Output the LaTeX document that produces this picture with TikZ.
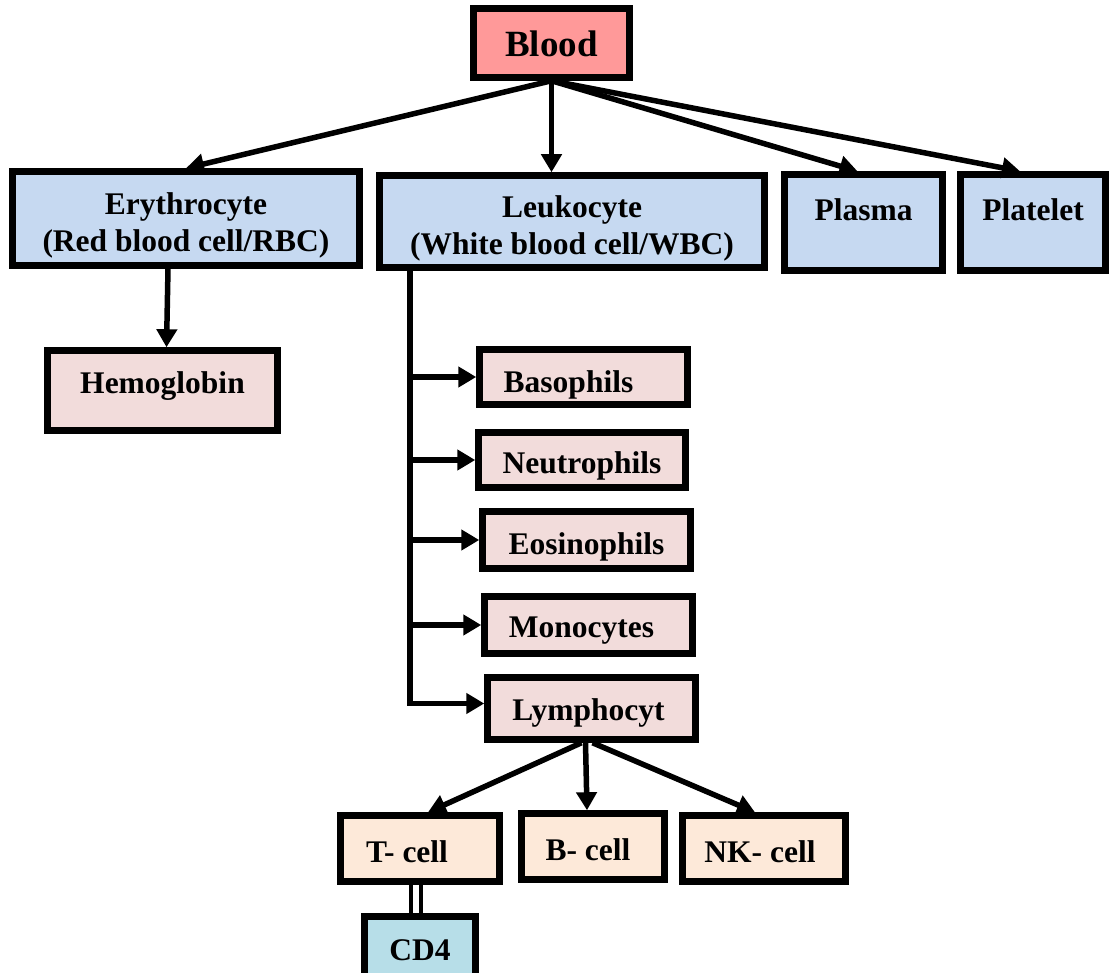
\documentclass[tikz,border=0pt]{standalone}
\usepackage{fontspec}
\setmainfont{Liberation Serif}
\usetikzlibrary{arrows.meta}

\definecolor{bloodc}{HTML}{FF9999}
\definecolor{bluec}{HTML}{C6D9F1}
\definecolor{pinkc}{HTML}{F2DCDB}
\definecolor{peachc}{HTML}{FDE9D9}
\definecolor{tealc}{HTML}{B7DEE8}

\begin{document}
\begin{tikzpicture}[x=1pt,y=-1pt,
  font=\bfseries\fontsize{31.5}{37}\selectfont,
  box/.style={draw=black, line width=6.5pt, rectangle, inner sep=0pt},
  arr/.style={line width=5.5pt, -{Triangle[length=18pt,width=20pt]}},
  plain/.style={line width=5.5pt},
  every label/.style={align=center, inner sep=0pt}]

\useasboundingbox (0,0) rectangle (1110,973);
\clip (0,0) rectangle (1110,973);

% top level
\node[box, fill=bloodc, minimum width=156pt, minimum height=69pt,
  label={[yshift=-1pt,font=\bfseries\fontsize{37}{40}\selectfont]center:Blood}] (blood) at (551.5,43) {};

% second level
\node[box, fill=bluec, minimum width=347pt, minimum height=94pt,
  label={[yshift=-7pt]center:Erythrocyte\\(Red blood cell/RBC)}] (ery) at (186,218.5) {};
\node[box, fill=bluec, minimum width=385pt, minimum height=92pt,
  label={[yshift=-7pt]center:Leukocyte\\(White blood cell/WBC)}] (leuko) at (572,221.5) {};
\node[box, fill=bluec, minimum width=158pt, minimum height=96pt,
  label={[yshift=13pt]center:Plasma}] (plasma) at (863.5,222.5) {};
\node[box, fill=bluec, minimum width=145pt, minimum height=96pt,
  label={[yshift=13pt]center:Platelet}] (platelet) at (1033,222.5) {};

% red cell content
\node[box, fill=pinkc, minimum width=230pt, minimum height=80pt,
  label={[yshift=4pt]center:Hemoglobin}] (hemo) at (162.5,390.5) {};

% white cell types
\node[box, fill=pinkc, minimum width=208pt, minimum height=55pt,
  label={[xshift=-15pt,yshift=-8pt]center:Basophils}] (baso) at (583.5,377) {};
\node[box, fill=pinkc, minimum width=207pt, minimum height=55pt,
  label={[yshift=-6pt]center:Neutrophils}] (neut) at (582,460) {};
\node[box, fill=pinkc, minimum width=208pt, minimum height=57pt,
  label={[yshift=-7pt]center:Eosinophils}] (eos) at (586.5,540) {};
\node[box, fill=pinkc, minimum width=208pt, minimum height=57pt,
  label={[xshift=-7pt,yshift=-6pt]center:Monocytes}] (mono) at (588.5,625) {};
\node[box, fill=pinkc, minimum width=208pt, minimum height=62pt,
  label={[xshift=-3pt,yshift=-4pt]center:Lymphocyt}] (lymph) at (591.5,708.5) {};

% lymphocyte types
\node[box, fill=peachc, minimum width=159pt, minimum height=66pt,
  label={[xshift=-13pt,yshift=-3pt]center:T- cell}] (tcell) at (420,848.5) {};
\node[box, fill=peachc, minimum width=143pt, minimum height=66pt,
  label={[xshift=-5pt,yshift=-3pt]center:B- cell}] (bcell) at (593,846.5) {};
\node[box, fill=peachc, minimum width=163pt, minimum height=66pt,
  label={[xshift=-4pt,yshift=-3pt]center:NK- cell}] (nk) at (764,848.5) {};

% T-cell marker
\node[box, fill=tealc, minimum width=111pt, minimum height=80pt,
  label={[yshift=6pt]center:CD4}] (cd4) at (420,956.5) {};

% connectors from Blood
\draw[arr] (blood.south) -- (ery.north);
\draw[arr] (blood.south) -- (blood.south |- leuko.north);
\draw[arr] (blood.south) -- ([xshift=-6pt]plasma.north);
\draw[arr] (blood.south) -- ([xshift=-13pt]platelet.north);

% erythrocyte to hemoglobin
\draw[arr] ([xshift=-18pt]ery.south) -- ([xshift=4pt]hemo.north);

% leukocyte trunk and branches
\coordinate (trunk) at ([xshift=33.5pt]leuko.south west);
\draw[arr, line join=miter] (trunk) |- ([yshift=5pt]lymph.west);
\draw[arr] (trunk |- baso.west) -- (baso.west);
\draw[arr] (trunk |- neut.west) -- (neut.west);
\draw[arr] (trunk |- eos.west) -- (eos.west);
\draw[arr] (trunk |- mono.west) -- (mono.west);

% lymphocyte branches
\draw[arr] ([xshift=-10pt]lymph.south) -- ([xshift=8pt]tcell.north);
\draw[arr] ([xshift=-6pt]lymph.south) -- ([xshift=-6pt]bcell.north);
\draw[arr] ([xshift=1pt]lymph.south) -- ([xshift=-9pt]nk.north);

% T-cell to CD4 (double link)
\draw[line width=4pt, double=white, double distance=6pt]
  ([xshift=-4pt]tcell.south) -- ([xshift=-4pt]cd4.north);

\end{tikzpicture}
\end{document}
